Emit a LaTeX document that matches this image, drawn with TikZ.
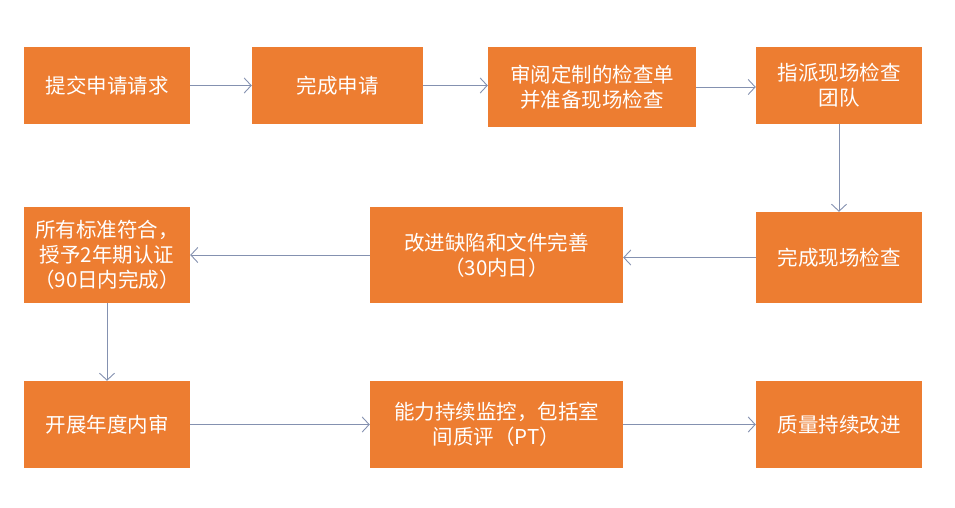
\documentclass[tikz,border=0pt]{standalone}
\usepackage{fontspec}
\newfontfamily\cjk{Noto Sans CJK SC}
\usetikzlibrary{arrows.meta}
\definecolor{boxorange}{RGB}{237,125,49}
\definecolor{arrowgray}{RGB}{132,145,176}
\tikzset{
  box/.style={rectangle, fill=boxorange, draw=none, text=white, align=center,
    inner sep=0pt, font=\cjk\fontsize{20.5}{25}\selectfont},
  arr/.style={draw=arrowgray, line width=0.9pt, -{Straight Barb[length=7pt,width=15pt,line width=0.9pt]}}
}
\begin{document}
\begin{tikzpicture}[x=1pt,y=-1pt]
\useasboundingbox (0,0) rectangle (955,507);
% row 1
\node[box, minimum width=166pt, minimum height=77pt] (b1) at (107,85.5) {提交申请请求};
\node[box, minimum width=171pt, minimum height=77pt] (b2) at (337.5,85.5) {完成申请};
\node[box, minimum width=208pt, minimum height=80pt] (b3) at (592,87) {审阅定制的检查单\\并准备现场检查};
\node[box, minimum width=166pt, minimum height=77pt] (b4) at (839,85.5) {指派现场检查\\团队};
% row 2
\node[box, minimum width=166pt, minimum height=96pt] (b5) at (107,255) {所有标准符合，\\授予2年期认证\\（90日内完成）};
\node[box, minimum width=253pt, minimum height=96pt] (b6) at (496.5,255) {改进缺陷和文件完善\\（30内日）};
\node[box, minimum width=166pt, minimum height=91pt] (b7) at (839,257.5) {完成现场检查};
% row 3
\node[box, minimum width=166pt, minimum height=87pt] (b8) at (107,424.5) {开展年度内审};
\node[box, minimum width=253pt, minimum height=87pt] (b9) at (496.5,424.5) {能力持续监控，包括室\\间质评（PT）};
\node[box, minimum width=166pt, minimum height=87pt] (b10) at (839,424.5) {质量持续改进};
% connectors
\draw[arr] (b1) -- (b2);
\draw[arr] (b2) -- (b3.west |- b2.center);
\draw[arr] (b3) -- (b4.west |- b3.center);
\draw[arr] (b4) -- (b7);
\draw[arr] (b7) -- (b6.east |- b7.center);
\draw[arr] (b6) -- (b5);
\draw[arr] (b5) -- (b8);
\draw[arr] (b8) -- (b9);
\draw[arr] (b9) -- (b10);
\end{tikzpicture}
\end{document}
